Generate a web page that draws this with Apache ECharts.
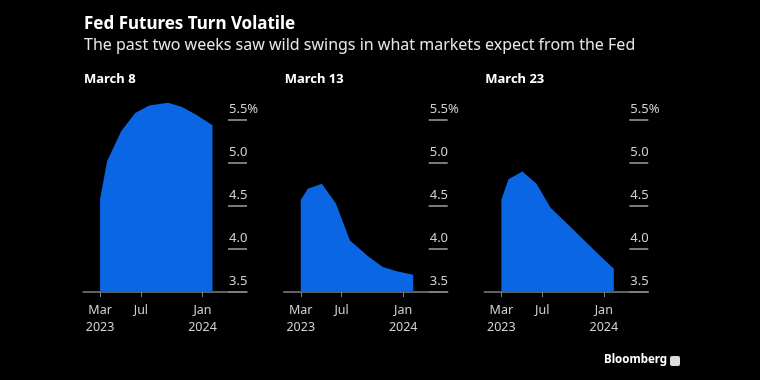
<!DOCTYPE html>
<html>
<head>
<meta charset="utf-8">
<script src="https://cdn.jsdelivr.net/npm/echarts@6/dist/echarts.min.js"></script>
<style>
html,body{margin:0;padding:0;background:#000;}
#chart{width:760px;height:380px;}
</style>
</head>
<body>
<div id="chart"></div>
<script>
// ---- data ----
var titleText = 'Fed Futures Turn Volatile';
var subtitleText = 'The past two weeks saw wild swings in what markets expect from the Fed';
var panelTitles = ['March 8', 'March 13', 'March 23'];
var meetingDates = ['2023-03-01','2023-03-22','2023-05-03','2023-06-14','2023-07-26','2023-09-20','2023-11-01','2023-12-13','2024-01-31'];
var march8  = [4.58, 5.02, 5.37, 5.58, 5.67, 5.70, 5.65, 5.56, 5.44];
var march13 = [4.57, 4.70, 4.76, 4.53, 4.10, 3.91, 3.79, 3.74, 3.70];
var march23 = [4.57, 4.81, 4.90, 4.76, 4.48, 4.27, 4.11, 3.95, 3.77];
var xTickDates = ['2023-03-01', '2023-07-01', '2024-01-01'];
var xTickLabels = ['Mar\n2023', 'Jul', 'Jan\n2024'];
var yTicks = [3.5, 4.0, 4.5, 5.0, 5.5];
var yTickLabels = ['3.5', '4.0', '4.5', '5.0', '5.5%'];
var axisStart = '2023-01-09', axisEnd = '2024-05-13';

var FONT = 'Noto Sans';
var BLUE = '#0b66e4';
var ORIGIN = Date.parse('2023-03-01');
function day(s){ return Math.round((Date.parse(s) - ORIGIN) / 86400000); }
var xTickDays = xTickDates.map(day);
function yLabel(v) { for (var k = 0; k < yTicks.length; k++) { if (Math.abs(yTicks[k] - v) < 1e-9) return yTickLabels[k]; } return ''; }

var seriesVals = [march8, march13, march23];
var lefts = [83, 283.7, 484.3];
var option = {
  backgroundColor: '#000',
  animation: false,
  title: [
    {text: titleText, left: 79, top: 11, textStyle: {color: '#fff', fontFamily: FONT, fontSize: 17, fontWeight: 'bold'}},
    {text: subtitleText, left: 79, top: 32, textStyle: {color: '#e6e6e6', fontFamily: FONT, fontSize: 16, fontWeight: 'normal'}}
  ],
  grid: [], xAxis: [], yAxis: [], series: [],
  graphic: [
    {type: 'text', left: 604, top: 354, style: {text: 'Bloomberg', fill: '#fff', font: 'bold 11.5px "Noto Sans"'}},
    {type: 'rect', left: 670, top: 356, shape: {width: 10, height: 10, r: 2}, style: {fill: '#ddd'}}
  ]
};
for (var i = 0; i < 3; i++) {
  option.title.push({text: panelTitles[i], left: lefts[i] - 4, top: 68, textStyle: {color: '#fff', fontFamily: FONT, fontSize: 13, fontWeight: 'bold'}});
  // main plot grid
  option.grid.push({left: lefts[i], top: 120, width: 164, height: 172, containLabel: false});
  // narrow grid for the short gridline segments and value labels at the right
  option.grid.push({left: lefts[i] + 145, top: 120, width: 19, height: 172, containLabel: false});
  option.xAxis.push({
    type: 'value', gridIndex: 2 * i,
    min: day(axisStart), max: day(axisEnd),
    axisLine: {show: true, lineStyle: {color: '#808080', width: 1.5}},
    axisTick: {show: true, length: 5, lineStyle: {color: '#808080', width: 1}, customValues: xTickDays},
    axisLabel: {
      show: true, color: '#d0d0d0', fontFamily: FONT, fontSize: 12.5, lineHeight: 17, margin: 10,
      customValues: xTickDays,
      formatter: function (v) { var k = xTickDays.indexOf(v); return k >= 0 ? xTickLabels[k] : ''; }
    },
    splitLine: {show: false}
  });
  option.xAxis.push({type: 'value', gridIndex: 2 * i + 1, min: 0, max: 1, show: false});
  option.yAxis.push({
    type: 'value', gridIndex: 2 * i,
    min: yTicks[0], max: yTicks[yTicks.length - 1], interval: 0.5,
    show: false
  });
  option.yAxis.push({
    type: 'value', gridIndex: 2 * i + 1, position: 'left',
    min: yTicks[0], max: yTicks[yTicks.length - 1], interval: 0.5,
    axisLine: {show: false},
    axisTick: {show: false},
    splitLine: {show: true, lineStyle: {color: '#a0a0a0', width: 1.5}},
    axisLabel: {
      show: true, inside: true, align: 'left', verticalAlign: 'bottom', margin: 1, padding: [0, 0, 4, 0],
      color: '#d0d0d0', fontFamily: FONT, fontSize: 13,
      formatter: yLabel
    }
  });
  option.series.push({
    type: 'line', xAxisIndex: 2 * i, yAxisIndex: 2 * i, clip: false,
    symbol: 'none', lineStyle: {width: 0, color: BLUE},
    areaStyle: {color: BLUE, opacity: 1, origin: 'start'},
    data: meetingDates.map(function (d, k) { return [day(d), seriesVals[i][k]]; })
  });
}
var chart = echarts.init(document.getElementById('chart'), null, {renderer: 'canvas'});
chart.setOption(option);
</script>
</body>
</html>
